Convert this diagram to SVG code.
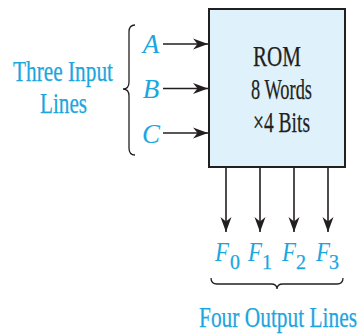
<svg xmlns="http://www.w3.org/2000/svg" width="358" height="335" viewBox="0 0 358 335">
  <style>
    .lbl { font-family: "Liberation Serif", "Times New Roman", serif; fill: #1ba6e0; stroke: #1ba6e0; stroke-width: 0.25; }
    .it { font-style: italic; stroke: none; }
    .box-text { font-family: "Liberation Serif", "Times New Roman", serif; fill: #231f20; stroke: #231f20; stroke-width: 0.25; font-size: 30px; }
    .wire { stroke: #231f20; stroke-width: 1.6; fill: none; }
    .brace { stroke: #231f20; stroke-width: 1.3; fill: none; }
  </style>
  <defs>
    <marker id="arrow" markerUnits="userSpaceOnUse" markerWidth="20" markerHeight="14" viewBox="-16 -7 18 14" refX="0" refY="0" orient="auto">
      <path d="M0,0 L-15,-5.5 L-10.5,0 L-15,5.5 Z" fill="#231f20"/>
    </marker>
  </defs>

  <!-- ROM block -->
  <g id="rom">
    <rect x="209" y="9" width="136" height="158" fill="#dff1fb" stroke="#231f20" stroke-width="2"/>
    <text class="box-text" x="277" y="66" text-anchor="middle" textLength="48" lengthAdjust="spacingAndGlyphs">ROM</text>
    <text class="box-text" x="281.5" y="99" text-anchor="middle" textLength="61" lengthAdjust="spacingAndGlyphs">8 Words</text>
    <text class="box-text" x="281.5" y="132" text-anchor="middle" textLength="57" lengthAdjust="spacingAndGlyphs">×4 Bits</text>
  </g>

  <!-- input lines -->
  <g id="inputs">
    <text class="lbl" x="13" y="81" font-size="30" textLength="100" lengthAdjust="spacingAndGlyphs">Three Input</text>
    <text class="lbl" x="40" y="113" font-size="30" textLength="47" lengthAdjust="spacingAndGlyphs">Lines</text>
    <path class="brace" d="M135,25 Q129,25 129,32 L129,82 Q129,89 123,89 Q129,89 129,96 L129,148 Q129,155 135,155"/>
    <text class="lbl it" x="151" y="53" font-size="27" text-anchor="middle">A</text>
    <text class="lbl it" x="151" y="98" font-size="27" text-anchor="middle">B</text>
    <text class="lbl it" x="151" y="143" font-size="27" text-anchor="middle">C</text>
  </g>

  <!-- output lines -->
  <g id="outputs">
    <text class="lbl it" x="215" y="261" font-size="28" textLength="14" lengthAdjust="spacingAndGlyphs">F</text>
    <text class="lbl" x="230" y="269" font-size="20">0</text>
    <text class="lbl it" x="248" y="261" font-size="28" textLength="14" lengthAdjust="spacingAndGlyphs">F</text>
    <text class="lbl" x="262" y="269" font-size="20">1</text>
    <text class="lbl it" x="282" y="261" font-size="28" textLength="14" lengthAdjust="spacingAndGlyphs">F</text>
    <text class="lbl" x="296" y="269" font-size="20">2</text>
    <text class="lbl it" x="316" y="261" font-size="28" textLength="14" lengthAdjust="spacingAndGlyphs">F</text>
    <text class="lbl" x="329" y="269" font-size="20">3</text>
    <path class="brace" d="M211,278 Q211,284 217,284 L271,284 Q277,284 277,289 Q277,284 283,284 L337,284 Q343,284 343,278"/>
    <text class="lbl" x="199" y="327" font-size="30" textLength="158" lengthAdjust="spacingAndGlyphs">Four Output Lines</text>
  </g>

  <!-- connectors -->
  <g id="connectors">
    <line class="wire" x1="163" y1="44" x2="208" y2="44" marker-end="url(#arrow)"/>
    <line class="wire" x1="163" y1="88.5" x2="208" y2="88.5" marker-end="url(#arrow)"/>
    <line class="wire" x1="163" y1="133" x2="208" y2="133" marker-end="url(#arrow)"/>
    <line class="wire" x1="226" y1="168" x2="226" y2="232" marker-end="url(#arrow)"/>
    <line class="wire" x1="260" y1="168" x2="260" y2="232" marker-end="url(#arrow)"/>
    <line class="wire" x1="294" y1="168" x2="294" y2="232" marker-end="url(#arrow)"/>
    <line class="wire" x1="328" y1="168" x2="328" y2="232" marker-end="url(#arrow)"/>
  </g>
</svg>
